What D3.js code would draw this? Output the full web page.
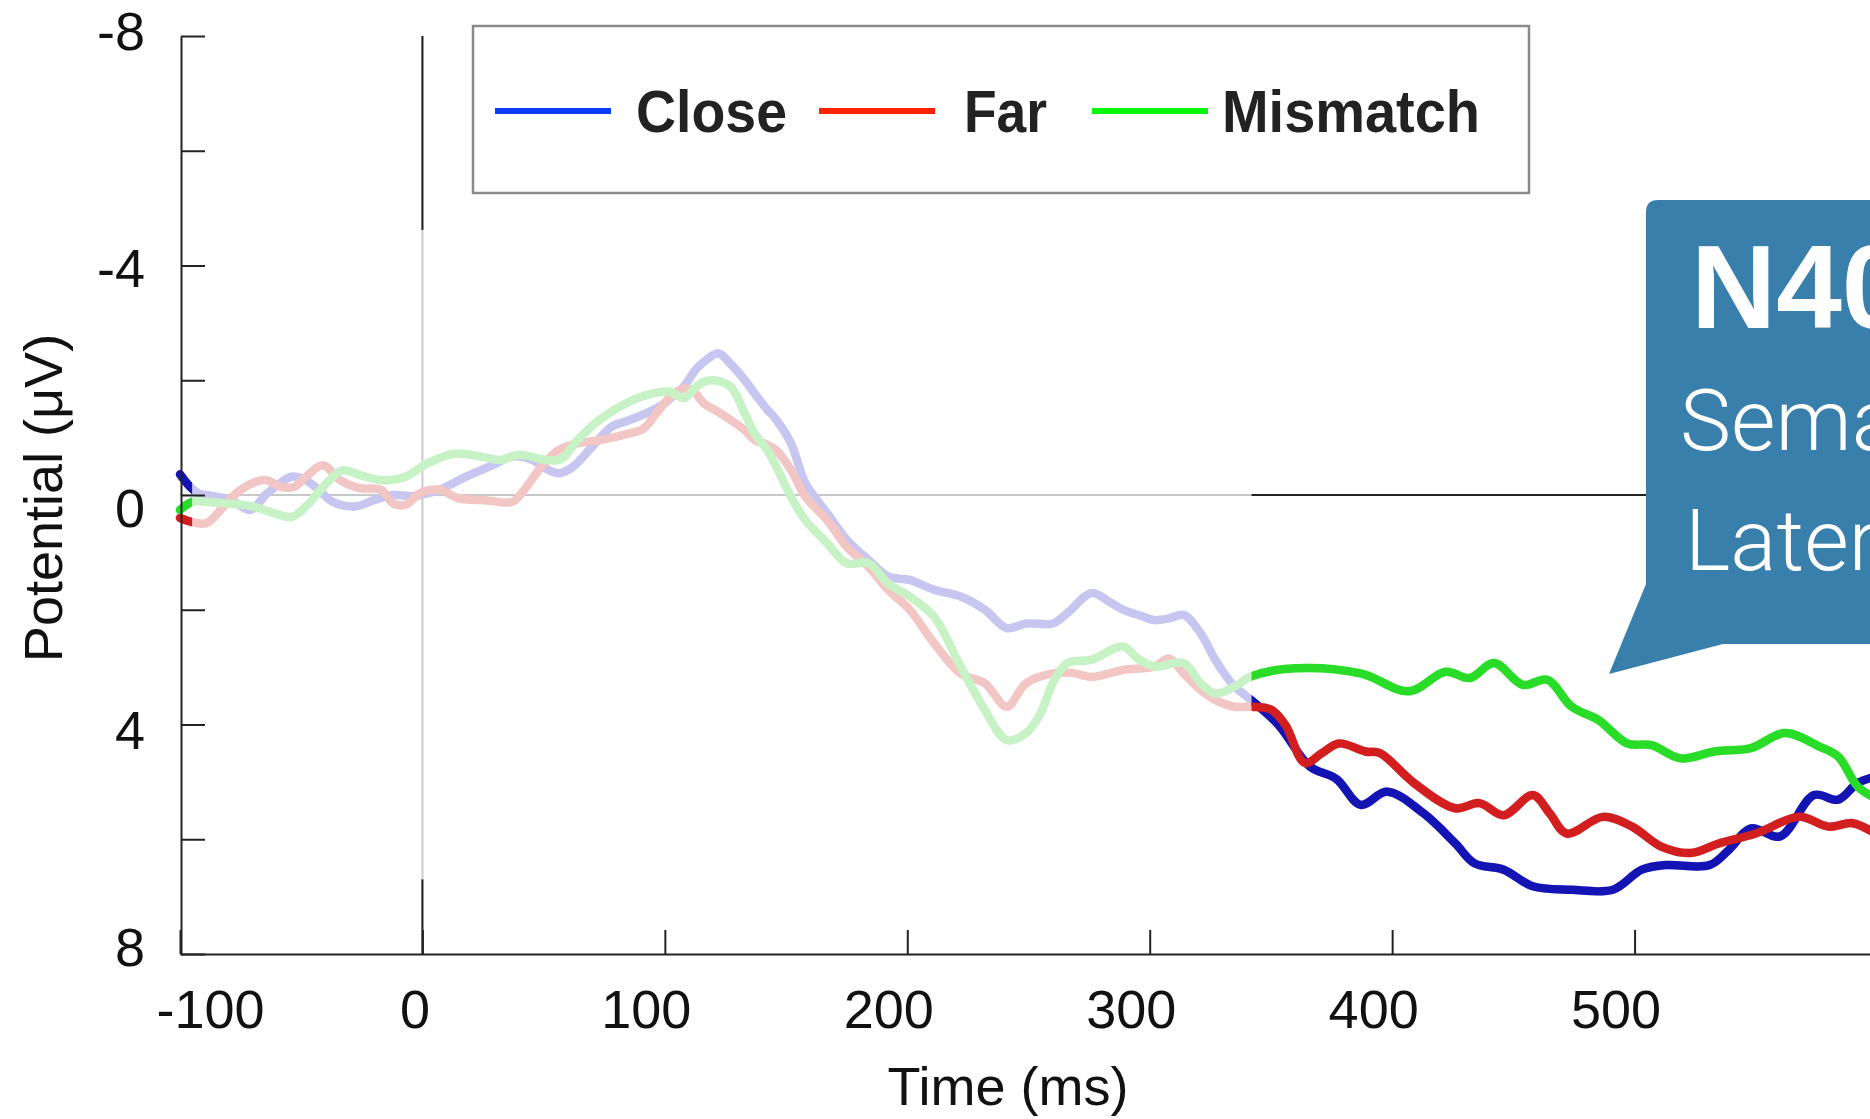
<!DOCTYPE html>
<html><head><meta charset="utf-8">
<script src="https://cdn.jsdelivr.net/npm/d3@7"></script>
<style>html,body{margin:0;padding:0;background:#fff;overflow:hidden}</style>
</head><body><svg id="c" width="1870" height="1119"></svg>
<script>
// ---------- data ----------
const xTicks = [-100, 0, 100, 200, 300, 400, 500];
const yTicks = [-8, -6, -4, -2, 0, 2, 4, 6, 8];
const yTickLabels = [-8, -4, 0, 4, 8];
const seriesNames = ["Close", "Far", "Mismatch"];
const xTitle = "Time (ms)";
const yTitle = "Potential (μV)";
const calloutLines = ["N400", "Semantic", "Later"];

const closeT = [-100,-96,-92,-89,-79,-71,-64,-54,-49,-43,-37,-28,-20,-12,-4,7,18,29,37,45,51,56,62,70,78,85,92,100,104,108,113,117,122,127,133,137,142,146,152,158,163,167,175,184,192,201,211,222,232,241,249,260,266,276,283,289,296,302,308,314,321,327,335,340,353,366,377,387,398,413,426,434,446,458,474,491,503,513,531,539,548,560,574,584,592,600];
const closeV = [-0.36,-0.15,-0.02,0.0,0.09,0.26,-0.03,-0.32,-0.28,-0.1,0.12,0.2,0.09,0.0,0.02,-0.09,-0.32,-0.52,-0.67,-0.62,-0.46,-0.38,-0.49,-0.84,-1.19,-1.3,-1.42,-1.6,-1.75,-1.9,-2.2,-2.35,-2.47,-2.29,-2.0,-1.77,-1.5,-1.31,-0.9,-0.2,0.1,0.32,0.78,1.13,1.42,1.48,1.65,1.77,2.0,2.32,2.24,2.24,2.06,1.71,1.85,2.0,2.1,2.18,2.15,2.09,2.41,2.87,3.34,3.51,4.0,4.73,4.95,5.4,5.17,5.55,6.07,6.42,6.53,6.82,6.88,6.88,6.53,6.45,6.45,6.18,5.81,5.95,5.23,5.31,5.02,4.9];

const farT = [-100,-95,-89,-82,-75,-65,-58,-53,-48,-41,-34,-26,-17,-12,-7,-1,7,15,26,37,42,49,56,64,74,85,91,97,102,108,112,116,122,127,133,137,142,146,152,158,167,175,184,192,201,211,222,232,241,249,260,268,276,289,302,308,314,321,327,335,342,350,356,364,371,378,389,395,409,426,436,446,458,465,472,487,499,511,523,535,550,568,580,590,600];
const farV = [0.4,0.47,0.49,0.2,-0.09,-0.26,-0.14,-0.14,-0.32,-0.52,-0.26,-0.12,-0.09,0.15,0.17,-0.03,-0.09,0.06,0.09,0.12,-0.09,-0.49,-0.78,-0.9,-0.96,-1.07,-1.15,-1.45,-1.7,-1.86,-1.8,-1.6,-1.45,-1.31,-1.13,-0.96,-0.88,-0.78,-0.44,0.03,0.44,0.9,1.25,1.65,2.0,2.58,3.11,3.28,3.69,3.28,3.11,3.1,3.17,3.05,2.99,2.85,3.11,3.4,3.57,3.69,3.69,3.74,4.01,4.67,4.5,4.33,4.47,4.5,5.02,5.46,5.37,5.58,5.23,5.55,5.9,5.61,5.78,6.13,6.24,6.07,5.9,5.61,5.78,5.72,5.92];

const mismatchT = [-100,-95,-89,-80,-70,-61,-54,-48,-41,-33,-26,-17,-7,2,13,24,32,40,51,57,64,73,84,95,102,108,112,116,120,127,133,137,142,146,152,158,167,175,184,192,201,211,222,232,241,249,255,260,266,276,289,295,302,314,321,327,335,342,360,387,407,422,432,442,454,464,474,485,497,507,519,533,548,562,576,584,592,600];
const mismatchV = [0.26,0.12,0.12,0.15,0.2,0.32,0.38,0.2,-0.14,-0.43,-0.35,-0.26,-0.32,-0.55,-0.72,-0.67,-0.61,-0.7,-0.61,-0.62,-0.96,-1.31,-1.6,-1.77,-1.8,-1.69,-1.85,-1.97,-2.0,-1.89,-1.42,-1.07,-0.8,-0.49,0.03,0.44,0.84,1.19,1.19,1.54,1.77,2.12,2.99,3.75,4.27,4.15,3.8,3.28,2.93,2.87,2.64,2.85,2.99,2.93,3.28,3.46,3.34,3.16,3.02,3.11,3.42,3.08,3.19,2.93,3.31,3.22,3.69,3.92,4.33,4.36,4.59,4.47,4.41,4.15,4.38,4.56,5.08,5.3];

// ---------- styles / layout ----------
const fullColor  = ["#1414b4", "#d21e1e", "#28dc28"];
const fadeColor  = ["#c6c6f0", "#f3c6c6", "#c6f2c6"];
const legendColor = ["#0b3cf5", "#ff2200", "#08f708"];
const highlightFrom = 342;   // ms: start of emphasised window
const W = 1870, H = 1119;

const svg = d3.select("#c");
const x = d3.scaleLinear().domain([-100, 600]).range([180, 1877]);
const y = d3.scaleLinear().domain([-8, 8]).range([36, 954]);

const series = [
  {name: seriesNames[0], pts: closeT.map((t,i)=>[t, closeV[i]])},
  {name: seriesNames[1], pts: farT.map((t,i)=>[t, farV[i]])},
  {name: seriesNames[2], pts: mismatchT.map((t,i)=>[t, mismatchV[i]])}
];

// clip paths
const defs = svg.append("defs");
const hl = defs.append("clipPath").attr("id","hl");
hl.append("rect").attr("x", x(highlightFrom)).attr("y", 0).attr("width", W).attr("height", H);
hl.append("rect").attr("x", x(-100)-10).attr("y", 0).attr("width", x(-95)-x(-100)+10).attr("height", H);

// zero line (grey, then black within highlight)
svg.append("line").attr("x1", x(-100)).attr("x2", x(highlightFrom)).attr("y1", y(0)).attr("y2", y(0))
  .attr("stroke", "#c8c8c8").attr("stroke-width", 2);
svg.append("line").attr("x1", x(highlightFrom)).attr("x2", 1660).attr("y1", y(0)).attr("y2", y(0))
  .attr("stroke", "#222").attr("stroke-width", 2);
// stimulus onset line
svg.append("line").attr("x1", x(0)).attr("x2", x(0)).attr("y1", y(-8)).attr("y2", y(8))
  .attr("stroke", "#cccccc").attr("stroke-width", 2);
svg.append("line").attr("x1", x(0)).attr("x2", x(0)).attr("y1", y(-8)).attr("y2", y(-4.62))
  .attr("stroke", "#222").attr("stroke-width", 2);
svg.append("line").attr("x1", x(0)).attr("x2", x(0)).attr("y1", y(6.7)).attr("y2", y(8))
  .attr("stroke", "#222").attr("stroke-width", 2);

// curves
const line = d3.line().x(d=>x(d[0])).y(d=>y(d[1])).curve(d3.curveCatmullRom.alpha(0.5));
const gFade = svg.append("g");
const gFull = svg.append("g").attr("clip-path", "url(#hl)");
series.forEach((s, i) => {
  gFade.append("path").attr("d", line(s.pts)).attr("fill","none")
    .attr("stroke", fadeColor[i]).attr("stroke-width", 8.5).attr("stroke-linejoin","round").attr("stroke-linecap","round");
  gFull.append("path").attr("d", line(s.pts)).attr("fill","none")
    .attr("stroke", fullColor[i]).attr("stroke-width", 8.5).attr("stroke-linejoin","round").attr("stroke-linecap","round");
});

// axes
const font = "'Liberation Sans', Arial, sans-serif";
const yNudge = {"-8": -4, "-4": 4, "0": 14, "4": 7, "8": -6};
const yAxis = d3.axisLeft(y).tickValues(yTicks).tickSize(-24).tickSizeOuter(0).tickPadding(36)
  .tickFormat(d => yTickLabels.includes(d) ? String(d) : "");
const gy = svg.append("g").attr("transform", `translate(${x(-100)+1},0)`).call(yAxis);
gy.selectAll("text").attr("font-family", font).attr("font-size", 54).attr("fill", "#111")
  .attr("transform", d => `translate(0,${yNudge[String(d)] || 0})`);
gy.selectAll("line, path").attr("stroke", "#222").attr("stroke-width", 2);

const xNudge = {"-100": 30, "0": -8};
const xAxis = d3.axisBottom(x).tickValues(xTicks).tickSize(-24).tickSizeOuter(0).tickPadding(36)
  .tickFormat(d => String(d));
const gx = svg.append("g").attr("transform", `translate(0,${y(8)})`).call(xAxis);
gx.selectAll("text").attr("font-family", font).attr("font-size", 54).attr("fill", "#111")
  .attr("dx", d => (xNudge[String(d)] !== undefined ? xNudge[String(d)] : -19));
gx.selectAll("line, path").attr("stroke", "#222").attr("stroke-width", 2);

// axis titles
svg.append("text").attr("x", 1008).attr("y", 1105).attr("text-anchor","middle")
  .attr("font-family", font).attr("font-size", 54).attr("fill","#111").text(xTitle);
svg.append("text").attr("transform", "translate(62,498) rotate(-90)").attr("text-anchor","middle")
  .attr("font-family", font).attr("font-size", 54).attr("fill","#111").text(yTitle);

// legend
const lg = svg.append("g");
lg.append("rect").attr("x", 473).attr("y", 26).attr("width", 1056).attr("height", 167)
  .attr("fill", "#fff").attr("stroke", "#8a8a8c").attr("stroke-width", 2.5);
const legLineX = [495, 819, 1092];
const legTextX = [636, 964, 1222];
const legTextW = [151, 83, 258];
seriesNames.forEach((n, i) => {
  lg.append("line").attr("x1", legLineX[i]).attr("x2", legLineX[i] + 116).attr("y1", 111).attr("y2", 111)
    .attr("stroke", legendColor[i]).attr("stroke-width", 6);
  lg.append("text").attr("x", legTextX[i]).attr("y", 132).attr("font-family", font).attr("font-weight", "bold")
    .attr("font-size", 59).attr("fill", "#222").attr("textLength", legTextW[i]).attr("lengthAdjust", "spacingAndGlyphs")
    .text(n);
});

// callout bubble
svg.append("path")
  .attr("d", "M1646,212 Q1646,200 1658,200 L1875,200 L1875,644 L1723,644 L1609,674 L1646,584 Z")
  .attr("fill", "#387fab");
svg.append("text").attr("x", 1691).attr("y", 328).attr("font-family", font).attr("font-weight","bold")
  .attr("font-size", 118).attr("fill", "#fff").text(calloutLines[0]);
svg.append("text").attr("x", 1680).attr("y", 450).attr("font-family", "Roboto, 'Liberation Sans', sans-serif").attr("font-weight", 300)
  .attr("font-size", 86).attr("fill", "#fff").text(calloutLines[1]);
svg.append("text").attr("x", 1685).attr("y", 570).attr("font-family", "Roboto, 'Liberation Sans', sans-serif").attr("font-weight", 300)
  .attr("font-size", 86).attr("fill", "#fff").text(calloutLines[2]);
</script></body></html>
